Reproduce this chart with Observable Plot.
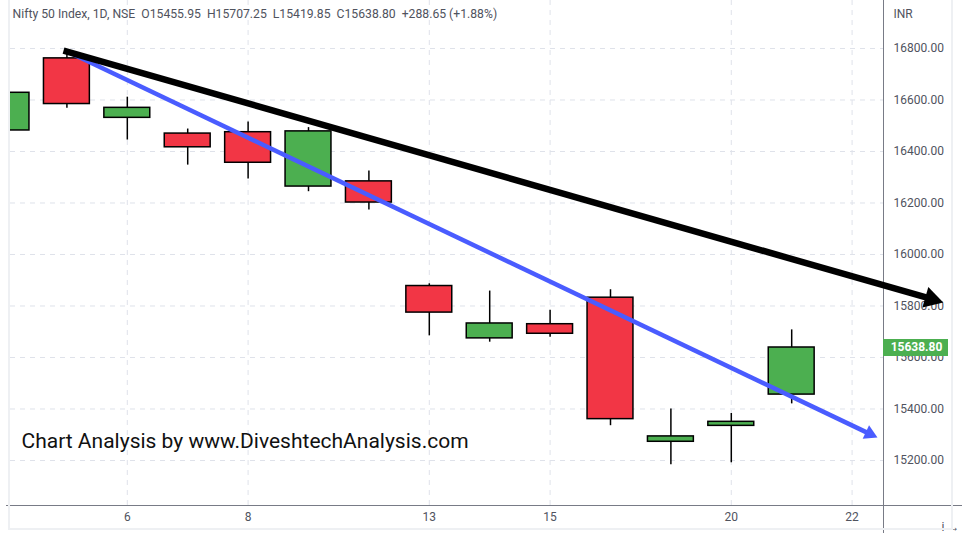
<!DOCTYPE html>
<html>
<head>
<meta charset="utf-8">
<script src="https://cdn.jsdelivr.net/npm/d3@7"></script>
<script src="https://cdn.jsdelivr.net/npm/@observablehq/plot@0.6"></script>
<style>
  html, body { margin: 0; padding: 0; background: #ffffff; }
  #wrap { position: relative; width: 962px; height: 533px; overflow: hidden; }
  #frame { position: absolute; left: 8px; top: -3px; width: 945px; height: 533px; border: 2px solid #eef0f3; box-sizing: border-box; pointer-events: none; }
</style>
</head>
<body>
<div id="wrap"><div id="frame"></div></div>
<script>
// ---- data (Nifty 50, daily, June 2022) ----
const dayIndex = [0, 1, 2, 3, 4, 5, 6, 7, 8, 9, 10, 11, 12, 13];
const dayLabels = ["2", "3", "6", "7", "8", "9", "10", "13", "14", "15", "16", "17", "20", "21"];
const openVals  = [16481.65, 16761.65, 16530.70, 16469.60, 16474.95, 16263.85, 16283.95, 15877.55, 15674.25, 15729.25, 15832.25, 15272.65, 15334.50, 15455.95];
const highVals  = [16646.40, 16793.85, 16610.95, 16487.25, 16514.30, 16492.80, 16324.70, 15886.15, 15858.00, 15783.65, 15863.15, 15400.40, 15382.50, 15707.25];
const lowVals   = [16443.05, 16567.90, 16444.55, 16347.10, 16293.50, 16243.85, 16172.60, 15684.00, 15659.45, 15678.90, 15335.10, 15183.40, 15191.10, 15419.85];
const closeVals = [16628.00, 16584.30, 16569.55, 16416.35, 16356.25, 16478.10, 16201.80, 15774.40, 15732.10, 15692.15, 15360.60, 15293.50, 15350.15, 15638.80];

const xTickIndex  = [2, 4, 7, 9, 12, 14];
const xTickLabels = ["6", "8", "13", "15", "20", "22"];
const yTicks = [15200, 15400, 15600, 15800, 16000, 16200, 16400, 16600, 16800];

// trend lines drawn on the chart: [startIndex, startPrice, tipIndex, tipPrice]
const blackTrend = [0.944, 16792, 15.51, 15814];
const blueTrend  = [0.99, 16790, 14.42, 15289];

const headerText = "Nifty 50 Index, 1D, NSE\u00a0\u00a0O15455.95\u00a0\u00a0H15707.25\u00a0\u00a0L15419.85\u00a0\u00a0C15638.80\u00a0\u00a0+288.65 (+1.88%)";
const watermark = "Chart Analysis by www.DiveshtechAnalysis.com";
const currency = "INR";
const lastClose = 15638.80;

// ---- layout ----
const W = 962, H = 533;
const mL = 10, mR = 79, mT = 0, mB = 28;
const xDomain = [0.066, 14.52];
const yDomain = [15025.2, 16986.4];
const kx = (W - mL - mR) / (xDomain[1] - xDomain[0]);  // px per day
const ky = (H - mT - mB) / (yDomain[1] - yDomain[0]);  // px per point

const green = "#4caf50", red = "#f23645";
const candles = dayIndex.map((i, k) => ({i, o: openVals[k], h: highVals[k], l: lowVals[k], c: closeVals[k]}));
const tickLabel = new Map(xTickIndex.map((d, k) => [d, xTickLabels[k]]));

function trend(t, r, color, width) {
  const [x1, y1, x2, y2] = t;
  const dxp = (x2 - x1) * kx, dyp = (y1 - y2) * ky;
  const ang = Math.atan2(dyp, dxp);
  const back = 1.555 * r;            // centroid -> tip of d3 triangle
  const cx = x2 - back * Math.cos(ang) / kx;
  const cy = y2 + back * Math.sin(ang) / ky;
  return [
    Plot.link([t], {x1: d => d[0], y1: d => d[1], x2: () => cx, y2: () => cy, stroke: color, strokeWidth: width, strokeLinecap: "butt"}),
    Plot.dot([t], {x: () => cx, y: () => cy, symbol: "triangle", r, fill: color, stroke: "none", rotate: ang * 180 / Math.PI + 90})
  ];
}

const chart = Plot.plot({
  width: W, height: H,
  marginLeft: mL, marginRight: mR, marginTop: mT, marginBottom: mB,
  x: {domain: xDomain, axis: null},
  y: {domain: yDomain, axis: null},
  color: {type: "identity"},
  style: {fontFamily: "Roboto, 'Liberation Sans', sans-serif", fontSize: "12px", color: "#50535e", background: "transparent", overflow: "visible"},
  marks: [
    Plot.ruleY(yTicks, {stroke: "#dfe2ea", strokeDasharray: "5,5", strokeWidth: 1}),
    Plot.ruleX(xTickIndex, {stroke: "#dfe2ea", strokeDasharray: "5,5", strokeWidth: 1}),
    Plot.axisY(yTicks, {anchor: "right", tickSize: 0, tickPadding: 10, tickFormat: d3.format(".2f"), fontSize: 12}),
    Plot.axisX(xTickIndex, {anchor: "bottom", tickSize: 0, tickPadding: 7, tickFormat: d => tickLabel.get(d), fontSize: 12}),
    Plot.ruleX([xDomain[1]], {stroke: "#787b86", strokeWidth: 1, insetBottom: -mB, insetTop: -2}),
    Plot.ruleY([yDomain[0]], {stroke: "#787b86", strokeWidth: 1, insetRight: -mR, insetLeft: -4}),
    // candles
    Plot.ruleX(candles, {x: "i", y1: "l", y2: "h", stroke: "#000", strokeWidth: 1.5, clip: true}),
    Plot.rect(candles, {x1: d => d.i - 0.38, x2: d => d.i + 0.38, y1: "o", y2: "c",
      fill: d => d.c >= d.o ? green : red, stroke: "#000", strokeWidth: 1.5, clip: true}),
    // watermark
    Plot.text([watermark], {frameAnchor: "top-left", dx: 11, dy: 441, text: d => d, textAnchor: "start", lineAnchor: "middle", fontSize: 21, fill: "#111", fontFamily: "Roboto, sans-serif"}),
    // trend lines
    ...trend(blueTrend, 5.5, "#4a5cff", 4.5),
    ...trend(blackTrend, 8, "#000000", 6.5),
    // header
    Plot.text([headerText], {frameAnchor: "top-left", dx: 2, dy: 14, text: d => d, textAnchor: "start", lineAnchor: "middle", fontSize: 12.2, fill: "#50535e"}),
    Plot.text([currency], {frameAnchor: "top-right", dx: 10, dy: 14, text: d => d, textAnchor: "start", lineAnchor: "middle", fontSize: 12, fill: "#50535e"}),
    // last price label
    Plot.ruleY([lastClose], {x1: xDomain[1], x2: xDomain[1] + 65 / kx, stroke: green, strokeWidth: 17}),
    Plot.text([lastClose], {y: d => d, x: xDomain[1], dx: 33, text: d => d3.format(".2f")(d), fill: "#fff", fontWeight: "bold", fontSize: 12, textAnchor: "middle"})
  ]
});
document.getElementById("wrap").prepend(chart);
</script>
</body>
</html>
